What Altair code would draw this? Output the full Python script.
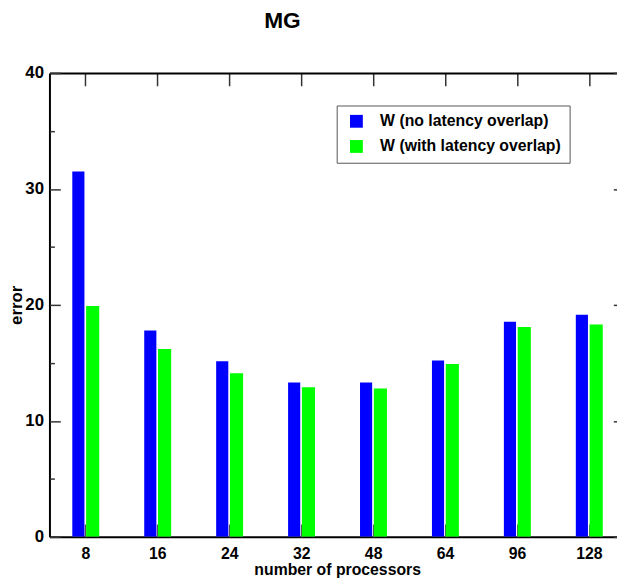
import altair as alt
import pandas as pd

procs = ["8", "16", "24", "32", "48", "64", "96", "128"]
no_overlap = [31.5, 17.8, 15.15, 13.3, 13.3, 15.2, 18.55, 19.15]
with_overlap = [19.9, 16.2, 14.1, 12.9, 12.8, 14.9, 18.1, 18.3]
series_names = ["W (no latency overlap)", "W (with latency overlap)"]
series_colors = ["#0000ff", "#00ff00"]
y_major = [0, 10, 20, 30, 40]
y_minor = [5, 15, 25, 35]

rows = []
for i, p in enumerate(procs):
    rows.append({"idx": i + 1, "proc": p, "s": 0, "series": series_names[0], "value": no_overlap[i]})
    rows.append({"idx": i + 1, "proc": p, "s": 1, "series": series_names[1], "value": with_overlap[i]})
df = pd.DataFrame(rows)

W, H = 575, 470
FONT = "Liberation Sans"
xscale = alt.Scale(domain=[0.5, 8.39], nice=False, zero=False)
yscale = alt.Scale(domain=[0, 40], nice=False)
idx_vals = list(range(1, len(procs) + 1))
label_expr = "[" + ",".join("'%s'" % p for p in procs) + "][datum.value - 1]"

base = alt.Chart(df).transform_calculate(
    x0="datum.idx + (datum.s == 0 ? -0.1825 : 0.0096)",
    x1="datum.idx + (datum.s == 0 ? -0.0137 : 0.192)",
)

bars = base.mark_bar(clip=True).encode(
    x=alt.X("x0:Q", scale=xscale, axis=alt.Axis(
        orient="bottom", values=idx_vals, labelExpr=label_expr, ticks=False, tickSize=0,
        labelPadding=9, labelFont=FONT, labelFontSize=16, labelFontWeight="bold", labelColor="black",
        domainColor="black", domainWidth=2, title="number of processors",
        titleFont=FONT, titleFontSize=16, titleFontWeight="bold", titleColor="black",
        titleX=291.5, titleY=38, titleBaseline="alphabetic", titleAlign="center")),
    x2="x1:Q",
    y=alt.Y("value:Q", scale=yscale, axis=alt.Axis(
        orient="left", values=y_major, ticks=False, tickSize=0, labelPadding=6,
        labelFont=FONT, labelFontSize=17, labelFontWeight="bold", labelColor="black",
        domainColor="black", domainWidth=2, title="error",
        titleFont=FONT, titleFontSize=17, titleFontWeight="bold", titleColor="black",
        titleX=-28, titleY=235, titleBaseline="alphabetic", titleAlign="center", titleAngle=270)),
    y2=alt.datum(0),
    color=alt.Color("series:N", scale=alt.Scale(domain=series_names, range=series_colors),
                    legend=alt.Legend(
                        title=None, orient="none", legendX=291, legendY=33,
                        symbolType="square", symbolSize=169, symbolStrokeWidth=0, symbolOffset=4,
                        labelFont=FONT, labelFontSize=16, labelFontWeight="bold", labelColor="black",
                        labelLimit=0, labelOffset=16, rowPadding=9.5, padding=8,
                        strokeColor="#555555", fillColor="white")),
)

ghost_a = base.mark_point(opacity=0).encode(
    x=alt.X("x0:Q", scale=xscale, axis=alt.Axis(
        orient="top", offset=-H, values=idx_vals, labels=False, domain=False,
        tickSize=13, tickColor="#555555", tickWidth=1.5, title=None)),
    y=alt.Y("value:Q", scale=yscale, axis=alt.Axis(
        orient="right", offset=-W, values=y_major, labels=False, domain=False,
        tickSize=11, tickColor="#333333", tickWidth=1.5, title=None)),
)

ghost_b = base.mark_point(opacity=0).encode(
    x=alt.X("x0:Q", scale=xscale, axis=alt.Axis(
        orient="bottom", offset=-H, values=idx_vals, labels=False, domain=True,
        domainColor="black", domainWidth=2,
        tickSize=13, tickColor="#333333", tickWidth=1.5, title=None)),
    y=alt.Y("value:Q", scale=yscale, axis=alt.Axis(
        orient="right", offset=-W, values=y_minor, labels=False, domain=False,
        tickSize=5, tickColor="#333333", tickWidth=1.5, title=None)),
)

ghost_c = base.mark_point(opacity=0).encode(
    x=alt.X("x0:Q", scale=xscale, axis=None),
    y=alt.Y("value:Q", scale=yscale, axis=alt.Axis(
        orient="left", offset=-(W * 7.99 / 7.89), values=y_major, labels=False, domain=True,
        domainColor="black", domainWidth=2,
        tickSize=11, tickColor="#333333", tickWidth=1.5, title=None)),
)

chart = alt.layer(bars, ghost_a, ghost_b, ghost_c).resolve_axis(
    x="independent", y="independent"
).properties(
    width=W, height=H,
    title=alt.TitleParams("MG", font=FONT, fontSize=23, fontWeight="bold", color="black",
                          anchor="middle", dx=-51.5, offset=32),
    autosize=alt.AutoSizeParams(type="none"),
    padding={"left": 42, "top": 62, "right": 0, "bottom": 44},
).configure_view(stroke=None).configure_axis(grid=False)

chart.save("out.html", embed_options={"renderer": "svg", "actions": False})
